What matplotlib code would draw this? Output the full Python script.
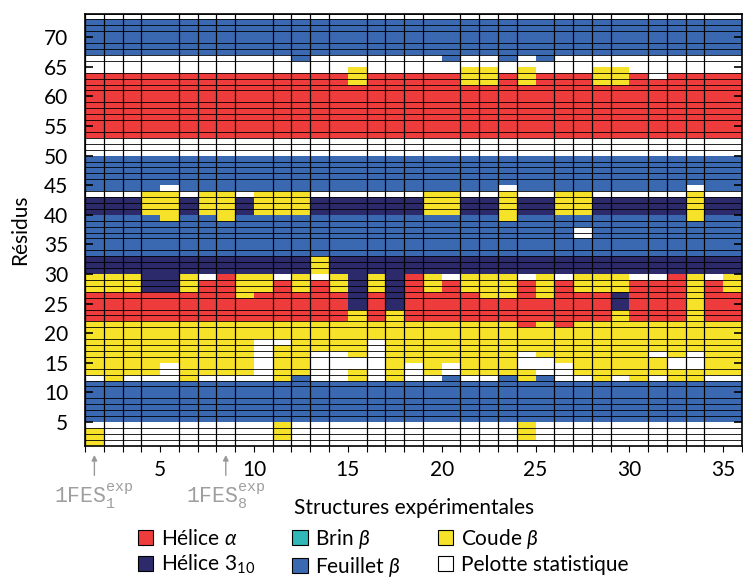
import numpy as np
import matplotlib.pyplot as plt
from matplotlib.colors import ListedColormap
from matplotlib.patches import Patch

plt.rcParams.update({
    "font.family": ["Lato", "DejaVu Sans"],
    "mathtext.fontset": "custom",
    "mathtext.rm": "Lato",
    "mathtext.it": "Lato:italic",
    "mathtext.tt": "Liberation Mono",
})

# secondary structure codes
state_codes = ["H", "G", "B", "E", "T", "C"]
state_labels = ["Hélice $\\alpha$", "Hélice 3$_{10}$", "Brin $\\beta$",
                "Feuillet $\\beta$", "Coude $\\beta$", "Pelotte statistique"]
state_colors = ["#ee3b3b", "#2d2a6b", "#31b7b8", "#3b69b1", "#f7e22a", "#ffffff"]

# one string per residue (73 first, 1 last), one char per structure (1..35)
residue_rows = [
    "CCCCCCCCCCCCCCCCCCCCCCCCCCCCCCCCCCC",  # 73
    "EEEEEEEEEEEEEEEEEEEEEEEEEEEEEEEEEEE",  # 72
    "EEEEEEEEEEEEEEEEEEEEEEEEEEEEEEEEEEE",
    "EEEEEEEEEEEEEEEEEEEEEEEEEEEEEEEEEEE",  # 70
    "EEEEEEEEEEEEEEEEEEEEEEEEEEEEEEEEEEE",
    "EEEEEEEEEEEEEEEEEEEEEEEEEEEEEEEEEEE",
    "EEEEEEEEEEEEEEEEEEEEEEEEEEEEEEEEEEE",  # 67
    "CCCCCCCCCCCECCCCCCCECCECECCCCCCCCCC",  # 66
    "CCCCCCCCCCCCCCCCCCCCCCCCCCCCCCCCCCC",  # 65
    "CCCCCCCCCCCCCCTCCCCCTTCTCCCTTCCCCCC",  # 64
    "HHHHHHHHHHHHHHTHHHHHTTHTHHHTTHCHHHH",  # 63
    "HHHHHHHHHHHHHHTHHHHHTTHTHHHTTHHHHHH",  # 62
    "HHHHHHHHHHHHHHHHHHHHHHHHHHHHHHHHHHH",  # 61
    "HHHHHHHHHHHHHHHHHHHHHHHHHHHHHHHHHHH",  # 60
    "HHHHHHHHHHHHHHHHHHHHHHHHHHHHHHHHHHH",
    "HHHHHHHHHHHHHHHHHHHHHHHHHHHHHHHHHHH",
    "HHHHHHHHHHHHHHHHHHHHHHHHHHHHHHHHHHH",
    "HHHHHHHHHHHHHHHHHHHHHHHHHHHHHHHHHHH",
    "HHHHHHHHHHHHHHHHHHHHHHHHHHHHHHHHHHH",  # 55
    "HHHHHHHHHHHHHHHHHHHHHHHHHHHHHHHHHHH",
    "HHHHHHHHHHHHHHHHHHHHHHHHHHHHHHHHHHH",  # 53
    "CCCCCCCCCCCCCCCCCCCCCCCCCCCCCCCCCCC",  # 52
    "CCCCCCCCCCCCCCCCCCCCCCCCCCCCCCCCCCC",
    "CCCCCCCCCCCCCCCCCCCCCCCCCCCCCCCCCCC",  # 50
    "EEEEEEEEEEEEEEEEEEEEEEEEEEEEEEEEEEE",  # 49
    "EEEEEEEEEEEEEEEEEEEEEEEEEEEEEEEEEEE",
    "EEEEEEEEEEEEEEEEEEEEEEEEEEEEEEEEEEE",
    "EEEEEEEEEEEEEEEEEEEEEEEEEEEEEEEEEEE",
    "EEEEEEEEEEEEEEEEEEEEEEEEEEEEEEEEEEE",  # 45
    "EEEECEEEEEEEEEEEEEEEEECEEEEEEEEECEE",  # 44
    "CCCTTCTTCTTTCCCCCCTTCCTCCTTCCCCCTCC",  # 43
    "GGGTTGTTGTTTGGGGGGTTGGTGGTTGGGGGTGG",  # 42
    "GGGTTGTTGTTTGGGGGGTTGGTGGTTGGGGGTGG",
    "GGGTTGTTGTTTGGGGGGTTGGTGGTTGGGGGTGG",  # 40
    "EEEETEETEEEEEEEEEEEEEETEEEEEEEEETEE",  # 39
    "EEEEEEEEEEEEEEEEEEEEEEEEEEEEEEEEEEE",
    "EEEEEEEEEEEEEEEEEEEEEEEEEECEEEEEEEE",  # 37
    "EEEEEEEEEEEEEEEEEEEEEEEEEECEEEEEEEE",
    "EEEEEEEEEEEEEEEEEEEEEEEEEEEEEEEEEEE",  # 35
    "EEEEEEEEEEEEEEEEEEEEEEEEEEEEEEEEEEE",
    "EEEEEEEEEEEEEEEEEEEEEEEEEEEEEEEEEEE",  # 33
    "GGGGGGGGGGGGTGGGGGGGGGGGGGGGGGGGGGG",  # 32
    "GGGGGGGGGGGGTGGGGGGGGGGGGGGGGGGGGGG",
    "GGGGGGGGGGGGTGGGGGGGGGGGGGGGGGGGGGG",  # 30
    "TTTGGTCHTTCTCTGTGHTCTTTCTCTTTCCHTCT",  # 29
    "TTTGGTHHTTHTHTGTGHTHTTTHTHTTTHHHTHT",
    "TTTGGTHHTTHTHTGTGHTHTTTHTHTTTHHHTHT",  # 27
    "HHHHHHHHTHHHHHGHGHHHHTTHTHHHGHHHTHH",  # 26
    "HHHHHHHHHHHHHHGHGHHHHHHHHHHHGHHHTHH",  # 25
    "HHHHHHHHHHHHHHGHGHHHHHHHHHHHGHHHTHH",
    "HHHHHHHHHHHHHHTHTHHHHHHHHHHHTHHHTHH",  # 23
    "HHHHHHHHHHHHHHTHTHHHHHHHHHHHTHHHTHH",
    "TTTTTTTTTTTTTTTTTTTTTTTHTHTTTTTTTTT",  # 21
    "TTTTTTTTTTTTTTTTTTTTTTTTTTTTTTTTTTT",  # 20
    "TTTTTTTTTTTTTTTTTTTTTTTTTTTTTTTTTTT",
    "TTTTTTTTTCCTTTTCTTTTTTTTTTTTTTTTTTT",  # 18
    "TTTTTTTTTCTTTTTCTTTTTTTTTTTTTTTTTTT",
    "TTTTTTTTTCTTCCTCTTTTTTTCTTTTTTCTCTT",  # 16
    "TTTTTTTTTCTTCCCCTTTTTTTCCTTTTTTCCTT",  # 15
    "TTTTCTTTTCTTCCCCTCTCTTTCCCTTTTTCCTT",
    "TTTTCTTTTCTTCCTCTCTCTTTTCCTTTTTTTTT",  # 13
    "CTCCCTCCCCTECCTCTCCECCETECCTCTCTTCC",  # 12
    "EEEEEEEEEEEEEEEEEEEEEEEEEEEEEEEEEEE",  # 11
    "EEEEEEEEEEEEEEEEEEEEEEEEEEEEEEEEEEE",  # 10
    "EEEEEEEEEEEEEEEEEEEEEEEEEEEEEEEEEEE",
    "EEEEEEEEEEEEEEEEEEEEEEEEEEEEEEEEEEE",
    "EEEEEEEEEEEEEEEEEEEEEEEEEEEEEEEEEEE",
    "EEEEEEEEEEEEEEEEEEEEEEEEEEEEEEEEEEE",
    "EEEEEEEEEEEEEEEEEEEEEEEEEEEEEEEEEEE",  # 5
    "CCCCCCCCCCTCCCCCCCCCCCCTCCCCCCCCCCC",  # 4
    "TCCCCCCCCCTCCCCCCCCCCCCTCCCCCCCCCCC",
    "TCCCCCCCCCTCCCCCCCCCCCCTCCCCCCCCCCC",
    "TCCCCCCCCCCCCCCCCCCCCCCCCCCCCCCCCCC",  # 1
]

marked_structs = [1, 8]
marked_labels = [r"$\mathtt{1FES}_{\mathtt{1}}^{\mathtt{exp}}$",
                 r"$\mathtt{1FES}_{\mathtt{8}}^{\mathtt{exp}}$"]

grid = np.array([[state_codes.index(c) for c in row] for row in residue_rows[::-1]])
n_res, n_struct = grid.shape
x_edges = np.arange(1, n_struct + 2)
y_edges = np.arange(1, n_res + 2)

fs = 15

fig = plt.figure(figsize=(7.43, 5.79), dpi=100)
ax = fig.add_axes([85 / 743, 1 - 445.7 / 579, 657 / 743, 432.2 / 579])

cmap = ListedColormap(state_colors)
ax.pcolormesh(x_edges, y_edges, grid, cmap=cmap, vmin=-0.5, vmax=len(state_codes) - 0.5)

ax.set_xlim(x_edges[0], x_edges[-1])
ax.set_ylim(y_edges[0], y_edges[-1])

ax.set_xticks(x_edges, minor=True)
ax.set_yticks(y_edges, minor=True)
ax.set_axisbelow(False)
ax.grid(which="minor", axis="x", color="k", lw=0.9)
ax.grid(which="minor", axis="y", color="k", lw=0.6)

ax.set_xticks(np.arange(5, 36, 5))
ax.set_yticks(np.arange(5, 71, 5))
ax.tick_params(axis="x", which="both", direction="out", length=4, width=0.8, pad=6, labelsize=fs)
ax.tick_params(axis="y", which="major", direction="in", left=True, right=True,
               length=6, width=1.2, pad=12, labelsize=fs)
ax.tick_params(axis="y", which="minor", length=0)
for s in ax.spines.values():
    s.set_linewidth(1.2)

ax.set_ylabel("Résidus", fontsize=fs)
ax.yaxis.set_label_coords(-0.083, 0.5)

fig.text(414 / 743, 1 - 508 / 579, "Structures expérimentales", ha="center", va="center", fontsize=fs)

for s, lab in zip(marked_structs, marked_labels):
    xc = s + 0.5
    ax.annotate("", xy=(xc, -0.015), xycoords=("data", "axes fraction"),
                xytext=(xc, -0.075), textcoords=("data", "axes fraction"),
                arrowprops=dict(arrowstyle="-|>", color="0.6", lw=1, mutation_scale=8))
    ax.text(xc, -0.118, lab, transform=ax.get_xaxis_transform(), ha="center", va="center",
            fontsize=15.5, color="0.62")

handles = [Patch(facecolor=c, edgecolor="k", lw=0.8, label=l) for c, l in zip(state_colors, state_labels)]
fig.legend(handles=handles, loc="center", bbox_to_anchor=(383 / 743, 1 - 553 / 579), ncol=3,
           frameon=False, fontsize=fs, handlelength=0.75, handleheight=0.75, handletextpad=0.35,
           columnspacing=1.8, labelspacing=0.2, borderpad=0.2)

fig.savefig("out.png", dpi=100)
